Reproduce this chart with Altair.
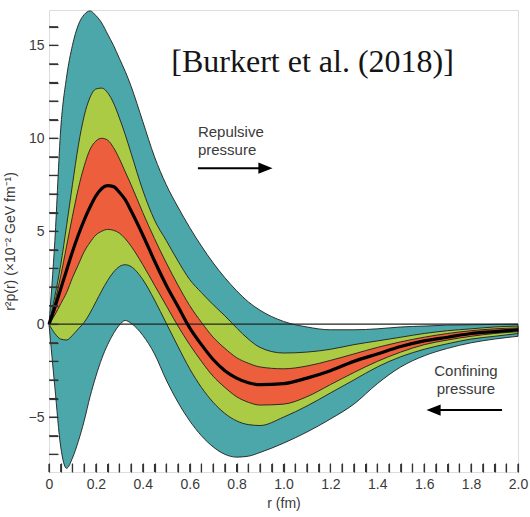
import altair as alt
import pandas as pd

r = [0, 0.025, 0.05, 0.075, 0.1, 0.125, 0.15, 0.175, 0.2, 0.225, 0.25, 0.275, 0.3, 0.325, 0.35,
     0.4, 0.45, 0.5, 0.55, 0.6, 0.65, 0.7, 0.75, 0.8, 0.85, 0.9, 1.0, 1.1, 1.2, 1.3, 1.4, 1.5,
     1.6, 1.7, 1.8, 1.9, 2.0]
teal_hi = [0, 4.5, 10.5, 13.3, 15.0, 16.1, 16.65, 16.85, 16.6, 16.2, 15.6, 15.0, 14.3, 13.6, 12.8,
           10.9, 9.0, 7.5, 6.3, 5.2, 4.2, 3.3, 2.5, 1.8, 1.2, 0.75, 0.15, -0.15, -0.3, -0.3, -0.25, -0.15,
           -0.1, -0.05, -0.03, -0.01, 0]
green_hi = [0, 1.5, 3.2, 5.3, 7.5, 9.6, 11.2, 12.2, 12.65, 12.7, 12.45, 11.9, 11.1, 10.2, 9.2,
            7.2, 5.6, 4.5, 3.4, 2.4, 1.7, 1.05, 0.45, -0.2, -0.8, -1.25, -1.55, -1.5, -1.35, -1.1, -0.9, -0.7,
            -0.5, -0.35, -0.25, -0.15, -0.1]
red_hi = [0, 1.2, 2.6, 4.2, 5.8, 7.3, 8.5, 9.4, 9.85, 10.0, 9.9, 9.5, 8.9, 8.2, 7.5,
          6.0, 4.6, 3.3, 2.1, 1.0, 0.1, -0.7, -1.3, -1.8, -2.1, -2.3, -2.4, -2.25, -1.95, -1.6, -1.25, -0.95,
          -0.7, -0.5, -0.35, -0.25, -0.2]
center = [0, 0.9, 1.9, 2.9, 3.9, 4.8, 5.6, 6.3, 6.9, 7.3, 7.45, 7.4, 7.1, 6.7, 6.1,
          4.8, 3.4, 2.1, 0.95, -0.2, -1.1, -1.9, -2.5, -2.9, -3.15, -3.25, -3.2, -2.9, -2.5, -2.0, -1.6, -1.2,
          -0.9, -0.7, -0.5, -0.4, -0.3]
red_lo = [0, 0.5, 1.1, 1.7, 2.5, 3.2, 3.9, 4.4, 4.8, 5.0, 5.1, 5.05, 4.9, 4.6, 4.2,
          3.2, 2.1, 1.0, -0.1, -1.1, -2.0, -2.8, -3.4, -3.9, -4.2, -4.35, -4.3, -3.9, -3.25, -2.6, -2.0, -1.5,
          -1.1, -0.85, -0.65, -0.5, -0.4]
green_lo = [0, -0.5, -0.8, -0.85, -0.6, -0.25, 0.1, 0.6, 1.2, 1.8, 2.35, 2.8, 3.1, 3.2, 3.1,
            2.4, 1.3, 0.05, -1.2, -2.4, -3.4, -4.2, -4.8, -5.2, -5.4, -5.45, -5.0, -4.4, -3.7, -3.0, -2.3, -1.75,
            -1.35, -1.05, -0.8, -0.65, -0.5]
teal_lo = [0, -3.4, -6.6, -7.75, -7.2, -6.3, -5.2, -3.9, -2.8, -1.85, -1.1, -0.5, -0.05, 0.2, 0.05,
           -0.6, -1.6, -3.0, -4.2, -5.2, -6.0, -6.6, -7.0, -7.15, -7.1, -6.9, -6.4, -5.8, -5.1, -4.3, -3.2, -2.3,
           -1.7, -1.3, -1.0, -0.8, -0.65]

x_ticks = [round(i * 0.05, 2) for i in range(41)]
y_ticks = list(range(-7, 17))

ann_text = ["[Burkert et al. (2018)]", "Repulsive", "pressure", "Confining", "pressure"]
ann_r = [1.124, 0.635, 0.635, 1.778, 1.778]
ann_v = [13.55, 10.05, 9.1, -2.8, -3.75]
ann_font = ["Liberation Serif", "Liberation Sans", "Liberation Sans", "Liberation Sans", "Liberation Sans"]
ann_size = [32, 15, 15, 15, 15]
ann_align = ["center", "left", "left", "center", "center"]

arrow_tail = [0.635, 1.932]
arrow_base = [0.91, 1.655]
arrow_tip_center = [0.923, 1.64]
arrow_v = [8.39, -4.62]
arrow_dir = ["right", "left"]

df = pd.DataFrame(dict(r=r, tu=teal_hi, tl=teal_lo, gu=green_hi, gl=green_lo,
                       ru=red_hi, rl=red_lo, c=center))
zero_df = pd.DataFrame(dict(r=[0, 2], v=[0, 0]))
ann_df = pd.DataFrame(dict(t=ann_text, r=ann_r, v=ann_v, f=ann_font, s=ann_size, a=ann_align))
arr_df = pd.DataFrame(dict(r0=arrow_tail, r1=arrow_base, rc=arrow_tip_center, v=arrow_v, d=arrow_dir))
xt_df = pd.DataFrame(dict(r=x_ticks))
yt_df = pd.DataFrame(dict(v=y_ticks))

xscale = alt.Scale(domain=[0, 2], nice=False, zero=False)
yscale = alt.Scale(domain=[-7.95, 16.9], nice=False, zero=False)

xaxis = alt.Axis(values=x_ticks, offset=-9, tickSize=9, domain=False, grid=False, zindex=1,
                 labelExpr="abs(datum.value*5 - round(datum.value*5)) < 0.001 ? (datum.value == 0 ? '0' : format(datum.value, '.1f')) : ''",
                 labelFont="Liberation Sans", labelFontSize=14, labelColor="#3a3a3a", labelPadding=5,
                 tickColor="#333", tickWidth=1.2, labelFlush=False, labelOverlap=False,
                 title="r (fm)", titleFont="Liberation Sans", titleFontSize=14, titleFontWeight="normal",
                 titleColor="#3a3a3a", titlePadding=5)
yaxis = alt.Axis(values=y_ticks, offset=-9, tickSize=9, domain=False, grid=False, zindex=1,
                 labelExpr="datum.value % 5 == 0 ? format(datum.value, 'd') : ''",
                 labelFont="Liberation Sans", labelFontSize=14, labelColor="#3a3a3a", labelPadding=5,
                 tickColor="#333", tickWidth=1.2, labelFlush=False, labelOverlap=False,
                 title="r²p(r) (×10⁻² GeV fm⁻¹)", titleFont="Liberation Sans", titleFontSize=14,
                 titleFontWeight="normal", titleColor="#3a3a3a", titlePadding=11)


def X(f):
    return alt.X(f, type="quantitative", scale=xscale, axis=xaxis)


def Y(f):
    return alt.Y(f, type="quantitative", scale=yscale, axis=yaxis)


def band(lo, hi, color):
    return alt.Chart(df).mark_area(color=color, stroke="#1e1e1e", strokeWidth=0.9,
                                   interpolate="monotone", opacity=1).encode(
        x=X("r"), y=Y(lo), y2=alt.Y2(hi))


teal = band("tl", "tu", "#4ba7a9")
green = band("gl", "gu", "#aacb43")
red = band("rl", "ru", "#ed5f3c")

zero = alt.Chart(zero_df).mark_line(color="#222", strokeWidth=1.3).encode(x=X("r"), y=Y("v"))
mid = alt.Chart(df).mark_line(color="black", strokeWidth=3.2, interpolate="monotone").encode(
    x=X("r"), y=Y("c"))

shaft = alt.Chart(arr_df).mark_rule(color="black", strokeWidth=2).encode(
    x=X("r0"), x2=alt.X2("r1"), y=Y("v"))
head_r = alt.Chart(arr_df).transform_filter("datum.d == 'right'").mark_point(
    shape="M1,0L-1,-0.8L-1,0.8Z", filled=True, color="black", size=200, opacity=1).encode(
    x=X("rc"), y=Y("v"))
head_l = alt.Chart(arr_df).transform_filter("datum.d == 'left'").mark_point(
    shape="M-1,0L1,-0.8L1,0.8Z", filled=True, color="black", size=200, opacity=1).encode(
    x=X("rc"), y=Y("v"))

# inward-pointing ticks along the bottom and left frame
xtick_marks = alt.Chart(xt_df).mark_rule(color="#333", strokeWidth=1.2).encode(
    x=X("r"), y=alt.value(454), y2=alt.value(462))
ytick_marks = alt.Chart(yt_df).mark_rule(color="#333", strokeWidth=1.2).encode(
    y=Y("v"), x=alt.value(0), x2=alt.value(9))

layers = [teal, green, red, zero, mid, shaft, head_r, head_l, xtick_marks, ytick_marks]
for i in range(len(ann_text)):
    sub = ann_df.iloc[[i]]
    color = "#151515" if i == 0 else "#3a3a3a"
    layers.append(alt.Chart(sub).mark_text(font=ann_font[i], fontSize=ann_size[i], align=ann_align[i],
                                           baseline="alphabetic", color=color).encode(
        x=X("r"), y=Y("v"), text="t:N"))

chart = alt.layer(*layers).properties(
    width=469, height=462,
    padding={"left": 49, "top": 10, "right": 12, "bottom": 45},
    autosize=alt.AutoSizeParams(type="none"),
).configure_view(stroke="#555", strokeWidth=1.5).configure(background="white")

chart.save("out.html", embed_options={"renderer": "svg", "actions": False})
